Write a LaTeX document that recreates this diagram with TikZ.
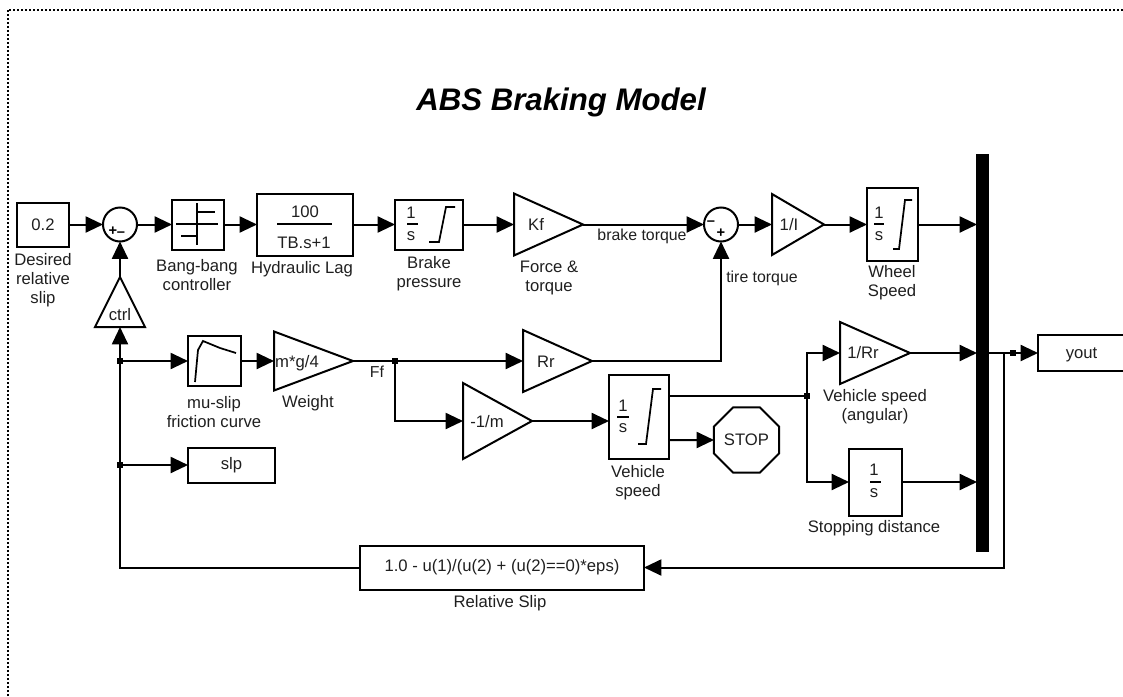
\documentclass[tikz,border=0pt]{standalone}
\usepackage{fontspec}
\setmainfont{Liberation Sans}
\usetikzlibrary{arrows.meta,shapes.geometric}
\definecolor{ink}{gray}{0.12}
\tikzset{
    wire/.style={line width=1.5pt},
    arr/.style={wire,-{Triangle[length=13pt,width=12pt]}},
    block/.style 2 args={draw,wire,rectangle,inner sep=0pt,outer sep=0pt,minimum width=#1*0.75pt,minimum height=#2*0.75pt},
    gain/.style 2 args={draw,wire,isosceles triangle,isosceles triangle stretches,inner sep=0pt,outer sep=0pt,anchor=apex,minimum height=#1*0.75pt,minimum width=#2*0.75pt},
    sumblk/.style={draw,wire,circle,inner sep=0pt,outer sep=0pt,minimum size=25.5pt},
    jn/.style={fill,rectangle,inner sep=0pt,outer sep=0pt,minimum size=4.5pt},
    lab/.style={text=ink,align=center,inner sep=0pt,font=\fontsize{12.5}{14.4}\selectfont},
    siglab/.style={text=ink,inner sep=0pt,font=\fontsize{11.9}{14}\selectfont},
    sgn/.style={inner sep=0pt,font=\fontsize{11}{11}\bfseries\selectfont},
    icon/.style={line width=1.3pt}
}
\begin{document}
\begin{tikzpicture}[x=0.75pt,y=-0.75pt]
    \useasboundingbox (0,0) rectangle (1123,696);
    \draw[line width=1.5pt,dash pattern=on 1.5pt off 1.5pt] (7.5,696) -- (7.5,9.5) -- (1123,9.5);
    \node[inner sep=0pt,font=\fontsize{23.4}{26}\bfseries\itshape\selectfont] (title) at (561,102) {ABS Braking Model};

    \node[block={52}{44},lab] (slipref) at (43,224.5) {0.2};
    \node[sumblk] (sumslip) at (120,224.5) {};
    \node[block={52}{50}] (bang) at (198,224.5) {};
    \node[block={96}{62}] (lag) at (305,224.5) {};
    \node[block={68}{50}] (brakeint) at (429,224.5) {};
    \node[gain={69}{62}] (kf) at (583,224.5) {};
    \node[sumblk] (sumtorque) at (721,224.5) {};
    \node[gain={52}{61}] (inertia) at (824,224.5) {};
    \node[block={51}{73}] (wheelint) at (892.5,224.5) {};
    \node[block={11}{396},fill] (mux) at (982.5,353) {};
    \node[block={87}{36},lab,text depth=0pt] (yout) at (1081.5,353) {yout};

    \node[gain={50}{50},shape border rotate=90] (ctrl) at (120,277) {};
    \node[block={53}{50}] (friction) at (214.5,361) {};
    \node[gain={79}{59}] (weight) at (353,361) {};
    \node[gain={69}{62}] (rr) at (592,361) {};
    \node[gain={69}{76}] (minv) at (532,421) {};
    \node[block={60}{84}] (vehint) at (639,417) {};
    \node[draw,wire,regular polygon,regular polygon sides=8,inner sep=0pt,outer sep=0pt,minimum size=52.8pt,lab] (stop) at (746.5,440) {STOP};
    \node[gain={70}{62}] (angular) at (910,353) {};
    \node[block={53}{67}] (distint) at (875.5,482) {};
    \node[block={87}{35},lab] (slp) at (231.5,465) {slp};
    \node[block={284}{44},lab] (relslip) at (502,567.5) {1.0 - u(1)/(u(2) + (u(2)==0)*eps)};

    \node[jn] (jnctrl) at (120,361) {};
    \node[jn] (jnslp) at (120,465) {};
    \node[jn] (jnff) at (395,361) {};
    \node[jn] (jnveh) at (807,396) {};
    \node[jn] (jnout) at (1013,353) {};
    \coordinate (fbk) at (1004,353);

    \draw[arr] (slipref) -- (sumslip);
    \draw[arr] (sumslip) -- (bang);
    \draw[arr] (bang) -- (lag);
    \draw[arr] (lag) -- (brakeint);
    \draw[arr] (brakeint) -- (kf.lower side);
    \draw[arr] (kf.apex) -- (sumtorque);
    \draw[arr] (sumtorque) -- (inertia.lower side);
    \draw[arr] (inertia.apex) -- (wheelint);
    \draw[arr] (wheelint) -- (wheelint -| mux.west);
    \draw[arr] (ctrl.apex) -- (sumslip);
    \draw[arr] (relslip.west) -| (ctrl.lower side);
    \draw[arr] (jnctrl) -- (friction);
    \draw[arr] (jnslp) -- (slp);
    \draw[arr] (friction) -- (weight.lower side);
    \draw[wire] (weight.apex) -- (jnff);
    \draw[arr] (jnff) -- (rr.lower side);
    \draw[arr] (rr.apex) -| (sumtorque);
    \draw[arr] (jnff) |- (minv.lower side);
    \draw[arr] (minv.apex) -- (minv.apex -| vehint.west);
    \draw[wire] (vehint.east |- jnveh) -- (jnveh);
    \draw[arr] (vehint.east |- stop) -- (stop);
    \draw[arr] (jnveh) |- (angular.lower side);
    \draw[arr] (jnveh) |- (distint);
    \draw[arr] (angular.apex) -- (angular.apex -| mux.west);
    \draw[arr] (distint) -- (distint -| mux.west);
    \draw[arr] (mux.east |- yout) -- (yout);
    \draw[arr] (fbk) |- (relslip.east);

    \draw[icon] (176,224) -- (218,224);
    \draw[icon] (197,203) -- (197,245);
    \draw[icon] (197,212) -- (215,212);
    \draw[icon] (181,236) -- (197,236);
    \draw[icon] (195,382) -- (198,350) -- (203,341) -- (220,348) -- (236,353);
    \draw[icon] (429,242) -- (439,242) -- (446,207) -- (455,207);
    \draw[icon] (893,249) -- (899,249) -- (905,200) -- (912,200);
    \draw[icon] (638,444) -- (646,444) -- (653,389) -- (661,389);
    \draw[icon] (407,224) -- (418,224);
    \draw[icon] (874,224) -- (884,224);
    \draw[icon] (617,417) -- (629,417);
    \draw[icon] (870,482) -- (881,482);
    \draw[icon] (277,224) -- (332,224);

    \node[sgn] at (113,231) {+};
    \node[sgn] at (121,234) {\textendash};
    \node[sgn] at (711,223) {\textendash};
    \node[sgn] at (721,233) {+};

    \node[lab] at (305,212) {100};
    \node[lab] at (304,243) {TB.s+1};
    \node[lab] at (411,213) {1};
    \node[lab] at (411,236) {s};
    \node[lab] at (879,213) {1};
    \node[lab] at (879,236) {s};
    \node[lab] at (623,406) {1};
    \node[lab] at (623,428) {s};
    \node[lab] at (874,470) {1};
    \node[lab] at (874,493) {s};
    \node[lab] at (536,224) {Kf};
    \node[lab] at (789,225) {1/I};
    \node[lab] at (120,315) {ctrl};
    \node[lab] at (297,363) {m*g/4};
    \node[lab] at (546,362) {Rr};
    \node[lab] at (487,422) {-1/m};
    \node[lab] at (863,353) {1/Rr};

    \node[lab] at (43,280) {Desired\\relative\\slip};
    \node[lab] at (197,275) {Bang-bang\\controller};
    \node[lab] at (302,269) {Hydraulic Lag};
    \node[lab] at (429,274) {Brake\\pressure};
    \node[lab] at (549,278) {Force \&\\torque};
    \node[siglab] at (642,236) {brake torque};
    \node[siglab] at (762,278) {tire torque};
    \node[lab] at (892,283) {Wheel\\Speed};
    \node[siglab] at (377,372) {Ff};
    \node[lab] at (214,412) {mu-slip\\friction curve};
    \node[lab] at (308,403) {Weight};
    \node[lab] at (875,407) {Vehicle speed\\(angular)};
    \node[lab] at (638,483) {Vehicle\\speed};
    \node[lab] at (874,528) {Stopping distance};
    \node[lab] at (500,603) {Relative Slip};
\end{tikzpicture}
\end{document}
